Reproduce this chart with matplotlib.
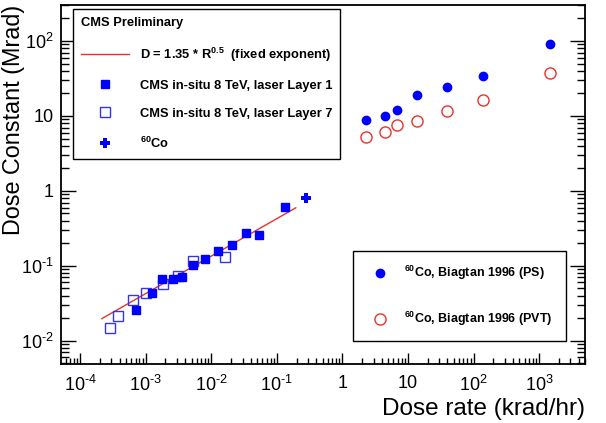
import matplotlib
matplotlib.use("Agg")
import matplotlib.pyplot as plt
import numpy as np
from matplotlib.ticker import FixedLocator, NullFormatter

plt.rcParams["font.family"] = ["Liberation Sans", "DejaVu Sans"]
plt.rcParams["mathtext.fontset"] = "custom"
plt.rcParams["mathtext.rm"] = "Liberation Sans"
plt.rcParams["mathtext.bf"] = "Liberation Sans:bold"
plt.rcParams["mathtext.it"] = "Liberation Sans:italic"
plt.rcParams["axes.unicode_minus"] = False

# CMS in-situ, laser layer 1 (filled squares)
l1_rate = [7.1e-4, 1.26e-3, 1.79e-3, 2.61e-3, 3.57e-3, 5.3e-3, 8.0e-3,
           0.0126, 0.0208, 0.0333, 0.053, 0.132]
l1_dose = [0.026, 0.044, 0.066, 0.067, 0.072, 0.104, 0.124,
           0.160, 0.192, 0.273, 0.259, 0.61]

# CMS in-situ, laser layer 7 (open squares)
l7_rate = [2.87e-4, 3.83e-4, 6.4e-4, 1.01e-3, 1.82e-3, 3.07e-3, 5.3e-3, 0.0163]
l7_dose = [0.0148, 0.0216, 0.0349, 0.044, 0.057, 0.0743, 0.117, 0.131]

# 60Co point
co_rate = [0.279]
co_dose = [0.80]

# Biagtan 1996
ps_rate = [2.28, 4.5, 6.85, 13.8, 39.0, 138.0, 1460.0]
ps_dose = [8.85, 10.0, 12.0, 19.2, 24.4, 34.4, 92.0]
pvt_rate = [2.28, 4.5, 6.7, 13.8, 39.0, 138.0, 1460.0]
pvt_dose = [5.25, 6.18, 7.5, 8.65, 11.5, 16.5, 37.4]

# fit: D = 1.35 * R^0.5
fit_coef = 1.35
fit_exp = 0.5
fit_range = (2.14e-4, 0.194)

x_decades = [-4, -3, -2, -1, 0, 1, 2, 3]
y_decades = [-2, -1, 0, 1, 2]


def dec_label(n):
    if n == 0:
        return "1"
    if n == 1:
        return "10"
    if n < 0:
        return r"$10^{\text{-}%d}$" % (-n)
    return r"$10^{%d}$" % n


BLUE = "#0000ff"
RED = "#e8322c"

fig = plt.figure(figsize=(6.06, 4.23), dpi=100)
ax = fig.add_axes([0.1007, 0.1395, 0.8646, 0.8485])
ax.set_xscale("log")
ax.set_yscale("log")
ax.set_xlim(5.1e-5, 5.0e3)
ax.set_ylim(4.9e-3, 302)

fx = np.logspace(np.log10(fit_range[0]), np.log10(fit_range[1]), 50)
h_fit, = ax.plot(fx, fit_coef * fx ** fit_exp, color=RED, lw=1.0,
                 label=r"D = 1.35 * R$^{\mathbf{0.5}}$  (fixed exponent)")
h_l7, = ax.plot(l7_rate, l7_dose, ls="none", marker="s", ms=7.5, mfc="none",
                mec="#3535f0", mew=1.0, label="CMS in-situ 8 TeV, laser Layer 7")
h_l1, = ax.plot(l1_rate, l1_dose, ls="none", marker="s", ms=5.8, color=BLUE,
                label="CMS in-situ 8 TeV, laser Layer 1")
h_co, = ax.plot(co_rate, co_dose, ls="none", marker="P", ms=7, color=BLUE,
                mew=0, label=r"$^{\mathbf{60}}$Co")
h_ps, = ax.plot(ps_rate, ps_dose, ls="none", marker="o", ms=6, color=BLUE,
                label=r"$^{\mathbf{60}}$Co, Biagtan 1996 (PS)")
h_pvt, = ax.plot(pvt_rate, pvt_dose, ls="none", marker="o", ms=8, mfc="none",
                 mec=RED, mew=1.0, label=r"$^{\mathbf{60}}$Co, Biagtan 1996 (PVT)")

# ticks
ax.xaxis.set_major_locator(FixedLocator([10.0 ** n for n in x_decades]))
ax.set_xticklabels([dec_label(n) for n in x_decades])
ax.yaxis.set_major_locator(FixedLocator([10.0 ** n for n in y_decades]))
ax.set_yticklabels([dec_label(n) for n in y_decades])
xminor = [m * 10.0 ** n for n in range(-5, 4) for m in range(2, 10)]
yminor = [m * 10.0 ** n for n in range(-3, 3) for m in range(2, 10)]
ax.xaxis.set_minor_locator(FixedLocator(xminor))
ax.yaxis.set_minor_locator(FixedLocator(yminor))
ax.xaxis.set_minor_formatter(NullFormatter())
ax.yaxis.set_minor_formatter(NullFormatter())
ax.tick_params(which="both", direction="in", top=False, right=True,
               colors="black", width=1.0)
ax.tick_params(axis="x", which="major", length=8, pad=8, labelsize=13)
ax.tick_params(axis="x", which="minor", length=4)
ax.tick_params(axis="y", which="major", length=11, pad=5, labelsize=13)
ax.tick_params(axis="y", which="minor", length=5.5)
for s in ax.spines.values():
    s.set_linewidth(1.3)

ax.set_xlabel("Dose rate (krad/hr)", fontsize=17.5, loc="right", labelpad=2)
ax.set_ylabel("Dose Constant (Mrad)", fontsize=16.8, loc="top")
ax.yaxis.set_label_coords(-0.069, 1.0)

leg1 = ax.legend(handles=[h_fit, h_l1, h_l7, h_co], title="CMS Preliminary",
                 loc="upper left", bbox_to_anchor=(0.023, 0.989),
                 prop={"weight": "bold", "size": 9.3},
                 title_fontproperties={"weight": "bold", "size": 9.3},
                 alignment="left", frameon=True, fancybox=False,
                 edgecolor="black", framealpha=1, borderpad=0.65,
                 handlelength=3.7, handletextpad=0.8, labelspacing=1.24,
                 borderaxespad=0)
leg1.get_frame().set_linewidth(1.0)
ax.add_artist(leg1)

leg2 = ax.legend(handles=[h_ps, h_pvt], loc="upper left",
                 bbox_to_anchor=(0.557, 0.315),
                 prop={"weight": "bold", "size": 9},
                 frameon=True, fancybox=False, edgecolor="black",
                 framealpha=1, borderpad=1.05, handlelength=2.2,
                 handletextpad=0.85, labelspacing=2.2, borderaxespad=0)
leg2.get_frame().set_linewidth(1.0)

fig.savefig("out.png", dpi=100)
